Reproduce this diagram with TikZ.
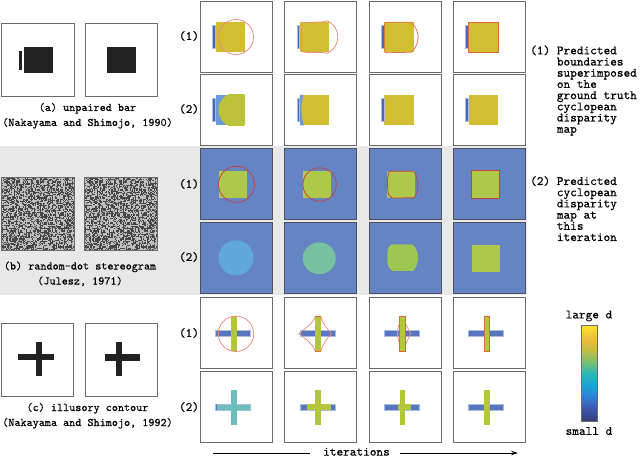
\documentclass[tikz,border=0pt]{standalone}
\usepackage{fontspec}
\setmonofont[FakeBold=0.4]{lmmono10-regular.otf}
\usetikzlibrary{arrows.meta}
\definecolor{frame}{HTML}{6A6A6A}
\definecolor{bframe}{HTML}{4C5060}
\definecolor{band}{HTML}{E8E8E8}
\definecolor{ylw}{HTML}{D2BF31}
\definecolor{ygr}{HTML}{BDC23B}
\definecolor{barblue}{HTML}{4B66B5}
\definecolor{lblue}{HTML}{6B9AD8}
\definecolor{halo}{HTML}{A9BDE6}
\definecolor{bgblue}{HTML}{6584C4}
\definecolor{sqgreen}{HTML}{AEC84A}
\definecolor{cyanb}{HTML}{5EA9D8}
\definecolor{tealg}{HTML}{76C1A0}
\definecolor{blobg}{HTML}{9EC653}
\definecolor{crossg}{HTML}{B4C73C}
\definecolor{crossb}{HTML}{5876C0}
\definecolor{tealc}{HTML}{6DBDBA}
\definecolor{lred}{HTML}{EE8A80}
\definecolor{dred}{HTML}{C8403C}
\definecolor{ored}{HTML}{E2683C}
\definecolor{pa0}{HTML}{363B78}
\definecolor{pa1}{HTML}{3D55A8}
\definecolor{pa2}{HTML}{2F7ED8}
\definecolor{pa3}{HTML}{1AA6D6}
\definecolor{pa4}{HTML}{2DB8B8}
\definecolor{pa5}{HTML}{7CC06A}
\definecolor{pa6}{HTML}{C4BE42}
\definecolor{pa7}{HTML}{F2BC3E}
\definecolor{pa8}{HTML}{F8E52A}
\pgfdeclareverticalshading{parula}{100bp}{color(0bp)=(pa0); color(25bp)=(pa0); color(31bp)=(pa1); color(37.5bp)=(pa2); color(44bp)=(pa3); color(50bp)=(pa4); color(56bp)=(pa5); color(62bp)=(pa6); color(68bp)=(pa7); color(75bp)=(pa8); color(100bp)=(pa8)}
\tikzset{
  pframe/.style={draw=frame, line width=0.9pt},
  bpframe/.style={draw=bframe, line width=0.9pt},
  lframe/.style={draw=frame, line width=1pt},
  bnd/.style={line width=0.75pt},
  lbl/.style={font=\ttfamily\fontsize{12.7}{11.2}\selectfont, inner sep=0pt},
  capt/.style={font=\ttfamily\fontsize{11.6}{15}\selectfont, inner sep=0pt},
}
\newcommand\myframe{\draw[pframe] (0,0) rectangle (72,71.3);}
\newcommand\mybframe{\draw[bpframe] (0,0) rectangle (72,71.3);}
\newcommand\myubar{\fill[ylw] (15,21) rectangle (44.5,51.5);
  \filldraw[fill=barblue,draw=halo,line width=0.6pt] (12.2,24) rectangle (14.8,47);}
\newcommand\myhbar[1]{\filldraw[fill=#1,draw=halo,line width=0.6pt] (15,33.3) rectangle (50,38.9);}
\newcommand\myvbar[1]{\fill[#1] (30.5,19) rectangle (36,54);}
\begin{document}
\begin{tikzpicture}[x=1pt,y=-1pt]
\useasboundingbox (0,0) rectangle (640,457);
\fill[band] (0,146) rectangle (527,295);

% ---------- left stimuli ----------
% (a) unpaired bar
\fill[black!87] (24,47) rectangle (53,73);
\fill[black!87] (19,51) rectangle (22.3,70);
\draw[lframe] (1.7,24) rectangle (74,96.5);
\fill[black!87] (107,47) rectangle (136,73);
\draw[lframe] (85,24) rectangle (157,96.5);
\node[capt, anchor=base] (capa) at (87.5,111) {\begin{tabular}[t]{@{}c@{}}(a) unpaired bar\\(Nakayama and Shimojo, 1990)\end{tabular}};

% (b) random-dot stereogram
\fill[black!25] (1,178) rectangle (74,251);
\fill[black!25] (84,178) rectangle (157,251);
\pgfmathsetseed{11}
\foreach \i in {0,...,63}{\foreach \j in {0,...,63}{\pgfmathrandominteger{\r}{0}{1}\ifnum\r=1
  \fill[black!72] ({1+1.14*\i},{178+1.14*\j}) rectangle ++(1.14,1.14);
  \fill[black!72] ({84+1.14*\i},{178+1.14*\j}) rectangle ++(1.14,1.14);\fi}}
\draw[lframe] (1,178) rectangle (74,251);
\draw[lframe] (84,178) rectangle (157,251);
\node[capt, anchor=base] (capb) at (80,269.5) {\begin{tabular}[t]{@{}c@{}}(b) random-dot stereogram\\(Julesz, 1971)\end{tabular}};

% (c) illusory contour
\fill[black!87] (18,354) rectangle (54,360);
\fill[black!87] (36,342) rectangle (42,376);
\draw[lframe] (1,323) rectangle (73,396);
\fill[black!87] (105,354) rectangle (140,360.5);
\fill[black!87] (116,342) rectangle (121.7,376);
\draw[lframe] (85,323) rectangle (157,396);
\node[capt, anchor=base] (capc) at (87.5,411) {\begin{tabular}[t]{@{}c@{}}(c) illusory contour\\(Nakayama and Shimojo, 1992)\end{tabular}};

% ---------- row labels ----------
\node[lbl] (ra1) at (189,36) {(1)};
\node[lbl] (ra2) at (189,109) {(2)};
\node[lbl] (rb1) at (189,184) {(1)};
\node[lbl] (rb2) at (189,257) {(2)};
\node[lbl] (rc1) at (189,333) {(1)};
\node[lbl] (rc2) at (189,407) {(2)};

% ---------- row 1 ----------
\begin{scope}[shift={(200.5,1)}]
  \myubar
  \draw[lred,bnd] (35.5,36) circle[radius=17.5pt];
  \myframe
\end{scope}
\begin{scope}[shift={(284.8,1)}]
  \myubar
  \draw[lred,bnd] (16.5,25) .. controls (16.5,22) and (19,21.3) .. (24,21.3) -- (38,21) .. controls (40,20.5) .. (42,19.75)
     arc[start angle=68.2, end angle=-68.2, radius=17.5pt]
     .. controls (40,51.8) .. (38,51.6) -- (24,51.6) .. controls (19,51.6) and (16.5,50.5) .. (16.5,47) -- cycle;
  \myframe
\end{scope}
\begin{scope}[shift={(369.1,1)}]
  \myubar
  \draw[ored!80!lred,bnd] (15.5,24) .. controls (15.5,21.5) .. (18.5,21.3) -- (42,21.3)
     arc[start angle=50, end angle=-50, radius=19.57pt]
     -- (18.5,51.7) .. controls (15.5,51.5) .. (15.5,49) -- cycle;
  \myframe
\end{scope}
\begin{scope}[shift={(453.5,1)}]
  \myubar
  \draw[ored,bnd] (15,21) rectangle (44.5,51.5);
  \myframe
\end{scope}

% ---------- row 2 ----------
\begin{scope}[shift={(200.5,74)}]
  \fill[lblue] (15,21) rectangle (44.5,51.5);
  \begin{scope}
    \clip (15,21) rectangle (44.5,51.5);
    \fill[ygr] (35.5,36) circle[radius=17.5pt];
  \end{scope}
  \filldraw[fill=barblue,draw=halo,line width=0.6pt] (12.2,24) rectangle (14.8,47);
  \myframe
\end{scope}
\begin{scope}[shift={(284.8,74)}]
  \myubar
  \fill[lblue] (15,21) -- (18.7,21) .. controls (15.8,30) and (15.8,42) .. (19.5,51.5) -- (15,51.5) -- cycle;
  \myframe
\end{scope}
\begin{scope}[shift={(369.1,74)}]
  \myubar
  \myframe
\end{scope}
\begin{scope}[shift={(453.5,74)}]
  \myubar
  \myframe
\end{scope}

% ---------- row 3 ----------
\begin{scope}[shift={(200.5,148.3)}]
  \fill[bgblue] (0,0) rectangle (72,71.3);
  \fill[sqgreen] (18,22.7) rectangle (46,49.4);
  \draw[dred,bnd] (36,36) circle[radius=18pt];
  \mybframe
\end{scope}
\begin{scope}[shift={(284.8,148.3)}]
  \fill[bgblue] (0,0) rectangle (72,71.3);
  \fill[sqgreen] (18,22.7) rectangle (46,49.4);
  \draw[dred,bnd] (34.8,36.2) circle[radius=16.7pt];
  \mybframe
\end{scope}
\begin{scope}[shift={(369.1,148.3)}]
  \fill[bgblue] (0,0) rectangle (72,71.3);
  \fill[sqgreen] (18,22.7) rectangle (46,49.4);
  \draw[dred,bnd] (20,23) -- (44.5,23) .. controls (47.5,27) .. (48.8,35) .. controls (48.5,43) .. (45,49.4)
     -- (23,49.8) .. controls (19,46) .. (18.5,40) -- (18.5,30) .. controls (18.8,26) .. (20,23) -- cycle;
  \mybframe
\end{scope}
\begin{scope}[shift={(453.5,148.3)}]
  \fill[bgblue] (0,0) rectangle (72,71.3);
  \fill[sqgreen] (18,22.5) rectangle (46,50);
  \draw[dred,bnd] (18,22.5) rectangle (46,50);
  \mybframe
\end{scope}

% ---------- row 4 ----------
\begin{scope}[shift={(200.5,222.3)}]
  \fill[bgblue] (0,0) rectangle (72,71.3);
  \fill[cyanb] (35.5,35.5) circle[radius=17.5pt];
  \mybframe
\end{scope}
\begin{scope}[shift={(284.8,222.3)}]
  \fill[bgblue] (0,0) rectangle (72,71.3);
  \fill[tealg] (34.5,36) ellipse[x radius=16.5pt, y radius=15.9pt];
  \mybframe
\end{scope}
\begin{scope}[shift={(369.1,222.3)}]
  \fill[bgblue] (0,0) rectangle (72,71.3);
  \fill[blobg] (22,22) -- (43,22) .. controls (46.5,25) .. (48.5,31) -- (49,37) .. controls (47.5,44) .. (44,48.5)
     -- (23,48.5) .. controls (19.5,45) .. (18.3,40) -- (18.3,30) .. controls (19,26) .. (22,22) -- cycle;
  \mybframe
\end{scope}
\begin{scope}[shift={(453.5,222.3)}]
  \fill[bgblue] (0,0) rectangle (72,71.3);
  \fill[sqgreen] (18,22.5) rectangle (46,50);
  \mybframe
\end{scope}

% ---------- row 5 ----------
\begin{scope}[shift={(200.5,297.3)}]
  \myhbar{crossb}\myvbar{crossg}
  \draw[lred,bnd] (35.5,36.5) circle[radius=17.7pt];
  \myframe
\end{scope}
\begin{scope}[shift={(284.8,297.3)}]
  \myhbar{crossb}\myvbar{crossg}
  \draw[lred,bnd] (30.5,19) -- (36,19) .. controls (38,27) and (43,32) .. (46.7,36.2) .. controls (43,40.5) and (38,46) .. (36,54)
     -- (30.5,54) .. controls (28,46) and (19,40.5) .. (14,36.2) .. controls (19,32) and (28,27) .. (30.5,19) -- cycle;
  \draw[ored,bnd] (30.5,19) -- (36,19) (30.5,54) -- (36,54);
  \myframe
\end{scope}
\begin{scope}[shift={(369.1,297.3)}]
  \myhbar{crossb}\myvbar{crossg}
  \draw[lred,bnd] (36,25) .. controls (38,30) .. (41.7,36.2) .. controls (38,42) .. (36,48)
     (30.5,26) .. controls (28.8,30) .. (28.3,36.2) .. controls (28.8,42) .. (30.5,46);
  \draw[ored,bnd] (30.5,19) rectangle (36,54);
  \myframe
\end{scope}
\begin{scope}[shift={(453.5,297.3)}]
  \myhbar{crossb}\myvbar{crossg}
  \draw[ored,bnd] (30.5,19) rectangle (36,54);
  \myframe
\end{scope}

% ---------- row 6 ----------
\begin{scope}[shift={(200.5,371)}]
  \myhbar{tealc}\myvbar{tealc}
  \fill[crossb] (15,33.3) rectangle (16.2,38.9);
  \myframe
\end{scope}
\begin{scope}[shift={(284.8,371)}]
  \myhbar{crossb}
  \fill[crossg] (22,33.3) rectangle (46,38.9);
  \myvbar{crossg}
  \myframe
\end{scope}
\begin{scope}[shift={(369.1,371)}]
  \myhbar{crossb}
  \fill[crossg] (29,33.3) rectangle (41.7,38.9);
  \myvbar{crossg}
  \myframe
\end{scope}
\begin{scope}[shift={(453.5,371)}]
  \myhbar{crossb}\myvbar{crossg}
  \myframe
\end{scope}

% ---------- right legend ----------
\node[lbl, anchor=base west] (leg1) at (530,54.3) {\begin{tabular}[t]{@{}l@{\ }l@{}}(1)&Predicted\\&boundaries\\&superimposed\\&on the\\&ground truth\\&cyclopean\\&disparity\\&map\end{tabular}};
\node[lbl, anchor=base west] (leg2) at (530,185) {\begin{tabular}[t]{@{}l@{\ }l@{}}(2)&Predicted\\&cyclopean\\&disparity\\&map at\\&this\\&iteration\end{tabular}};

% colour bar
\shade[shading=parula] (581,325) rectangle (597,421);
\draw[draw=frame, line width=0.8pt] (581,325) rectangle (597,421);
\node[lbl] (large) at (589,316) {large d};
\node[lbl] (small) at (589,431) {small d};

% iterations arrow
\node[lbl, anchor=base] (iters) at (356.5,455.6) {iterations};
\coordinate (itS) at (213,453);
\coordinate (itA) at (310,453);
\coordinate (itB) at (400,453);
\coordinate (itE) at (518,453);
\draw[line width=0.7pt] (itS) -- (itA);
\draw[line width=0.7pt, -{Stealth[length=7pt,width=4.5pt]}] (itB) -- (itE);
\end{tikzpicture}
\end{document}
